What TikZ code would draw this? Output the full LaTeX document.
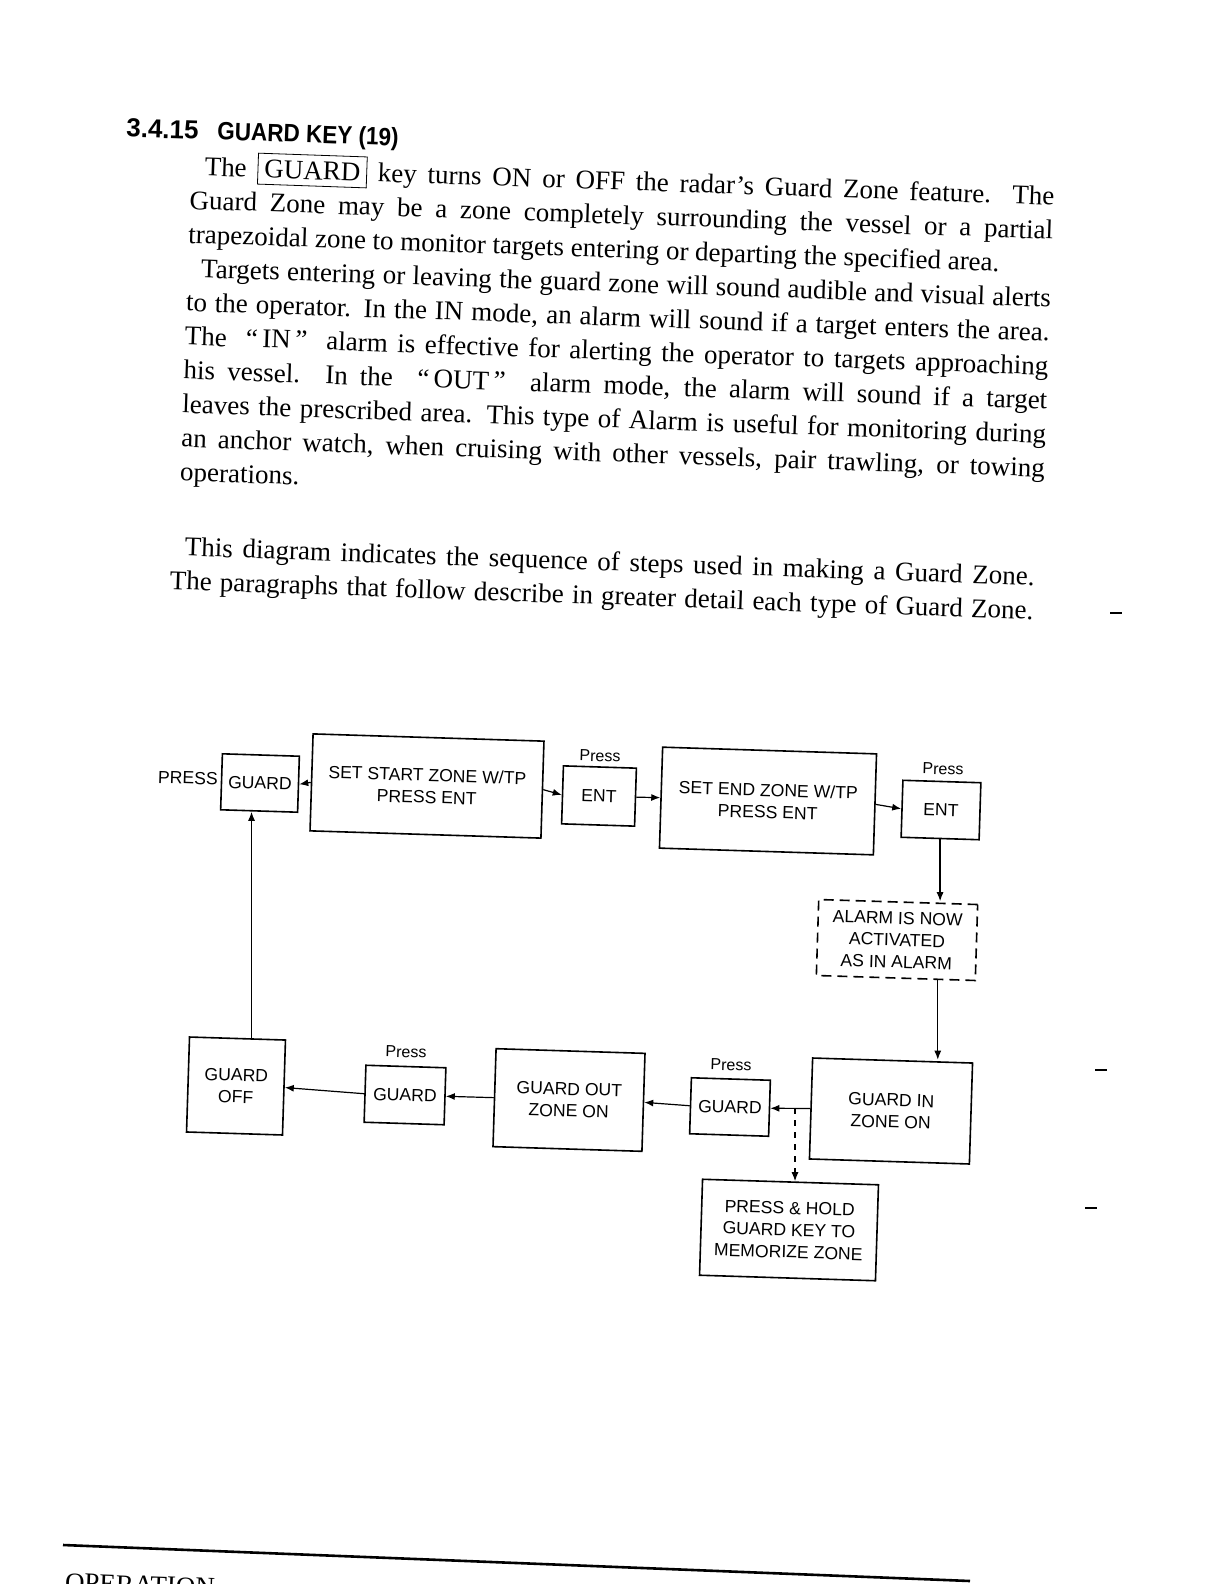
\documentclass[tikz,border=0pt]{standalone}
\usepackage{fontspec}
\setmainfont{Liberation Serif}
\newfontfamily\scanserif{Liberation Serif}
\newfontfamily\diagsans{Liberation Sans}
\newfontfamily\headsans[FakeStretch=0.9]{Liberation Sans}
\usetikzlibrary{arrows.meta}

\newcommand\pagetxt{\scanserif\fontsize{13.5}{17}\selectfont}
\newcommand\boxtxt{\diagsans\fontsize{8.8}{11}\selectfont}
\newcommand\presstxt{\diagsans\fontsize{8}{10}\selectfont}
\newcommand\headtxt{\headsans\bfseries\fontsize{12.5}{14}\selectfont}
\newcommand\ind{\hspace*{7pt}}

\begin{document}
\begin{tikzpicture}[x=0.5pt, y=-0.5pt,
  box/.style={draw, line width=0.8pt, rotate=-1.8, align=center, font=\boxtxt, inner sep=2pt},
  keybox/.style={box, minimum width=38.5pt, minimum height=28pt},
  lbl/.style={rotate=-1.8, font=\presstxt, inner sep=0pt},
  arr/.style={-{Latex[length=4.5pt,width=3.5pt]}, line width=0.6pt},
  para/.style={anchor=north west, rotate=-2, text width=432pt, align=justify, inner sep=0pt, font=\pagetxt}
]
\fill[white] (0,0) rectangle (1224,1584);
\useasboundingbox (0,0) rectangle (1224,1584);

% heading and text
\node[anchor=west, rotate=-2, font={\diagsans\bfseries\fontsize{13}{14}\selectfont}, inner sep=0pt] (secno) at (126,128) {3.4.15};
\node[anchor=west, rotate=-2, font=\headtxt, inner sep=0pt] (title) at (217,133) {GUARD KEY (19)};
\node[para] (intro) at (191,150) {\ind The \fbox{GUARD} key turns ON or OFF the radar’s Guard Zone feature. The\linebreak
Guard Zone may be a zone completely surrounding the vessel or a partial\linebreak
trapezoidal zone to monitor targets entering or departing the specified area.\par
\ind Targets entering or leaving the guard zone will sound audible and visual alerts\linebreak
to the operator. In the IN mode, an alarm will sound if a target enters the area.\linebreak
The \ “\,IN\,” \ alarm is effective for alerting the operator to targets approaching\linebreak
his vessel. In the \ “\,OUT\,” \ alarm mode, the alarm will sound if a target\linebreak
leaves the prescribed area. This type of Alarm is useful for monitoring during\linebreak
an anchor watch, when cruising with other vessels, pair trawling, or towing\linebreak
operations.};
\node[para] (steps) at (171,536) {\ind This diagram indicates the sequence of steps used in making a Guard Zone.\linebreak
The paragraphs that follow describe in greater detail each type of Guard Zone.{\parfillskip=0pt\par}};

% top row
\node[lbl, font=\boxtxt] (pressword) at (188,778) {PRESS};
\node[keybox] (guardA) at (260,783) {GUARD};
\node[box, minimum width=115.5pt, minimum height=48.5pt] (start) at (427,786) {SET START ZONE W/TP\\PRESS ENT};
\node[keybox, minimum width=36.5pt, minimum height=29pt] (entA) at (599,796) {ENT};
\node[lbl] (pressA) at (600,756) {Press};
\node[box, minimum width=107pt, minimum height=50.5pt] (endz) at (768,801) {SET END ZONE W/TP\\PRESS ENT};
\node[keybox, minimum width=39pt, minimum height=28.5pt] (entB) at (941,810) {ENT};
\node[lbl] (pressB) at (943,769) {Press};
\node[box, dashed, dash pattern=on 5pt off 3pt, minimum width=79.5pt, minimum height=38pt] (alarm) at (897,940) {ALARM IS NOW\\ACTIVATED\\AS IN ALARM};

% bottom row
\node[box, minimum width=80pt, minimum height=50.5pt] (guardin) at (891,1111) {GUARD IN\\ZONE ON};
\node[keybox, minimum width=39.5pt] (guardB) at (730,1107) {GUARD};
\node[lbl] (pressC) at (731,1065) {Press};
\node[box, minimum width=88pt, minimum height=48pt] (memo) at (789,1230) {PRESS \& HOLD\\GUARD KEY TO\\MEMORIZE ZONE};
\node[box, minimum width=74.5pt, minimum height=49pt] (guardout) at (569,1100) {GUARD OUT\\ZONE ON};
\node[keybox, minimum width=40pt, minimum height=28.5pt] (guardC) at (405,1095) {GUARD};
\node[lbl] (pressD) at (406,1052) {Press};
\node[box, minimum width=48pt, minimum height=47.5pt] (guardoff) at (236,1086) {GUARD\\OFF};
\coordinate (hold) at (795,1108);

% connectors
\draw[arr] (start.west) -- (guardA.east);
\draw[arr] (start.east) -- (entA.west);
\draw[arr] (entA.east) -- (endz.west);
\draw[arr] (endz.east) -- (entB.west);
\draw[arr] (entB.south) -- (entB.south |- alarm.north);
\draw[arr] ([xshift=21pt]alarm.south) -- ([xshift=21pt]alarm.south |- guardin.north);
\draw[arr] (guardin.west) -- (guardB.east);
\draw[arr, dashed] (hold) -- (hold |- memo.north);
\draw[arr] (guardB.west) -- (guardout.east);
\draw[arr] (guardout.west) -- (guardC.east);
\draw[arr] (guardC.west) -- (guardoff.east);
\draw[arr] ([xshift=7pt]guardoff.north) -- ([xshift=7pt]guardoff.north |- guardA.south);

% page foot and margin marks
\draw[line width=1.3pt] (63,1545) -- (970,1581);
\node[anchor=north west, rotate=-2, font=\pagetxt, inner sep=0pt] (foot) at (65,1573) {OPERATION};
\draw[line width=0.6pt] (1110,613) -- (1122,613);
\draw[line width=0.6pt] (1095,1070) -- (1107,1070);
\draw[line width=0.6pt] (1085,1208) -- (1097,1208);
\end{tikzpicture}
\end{document}
